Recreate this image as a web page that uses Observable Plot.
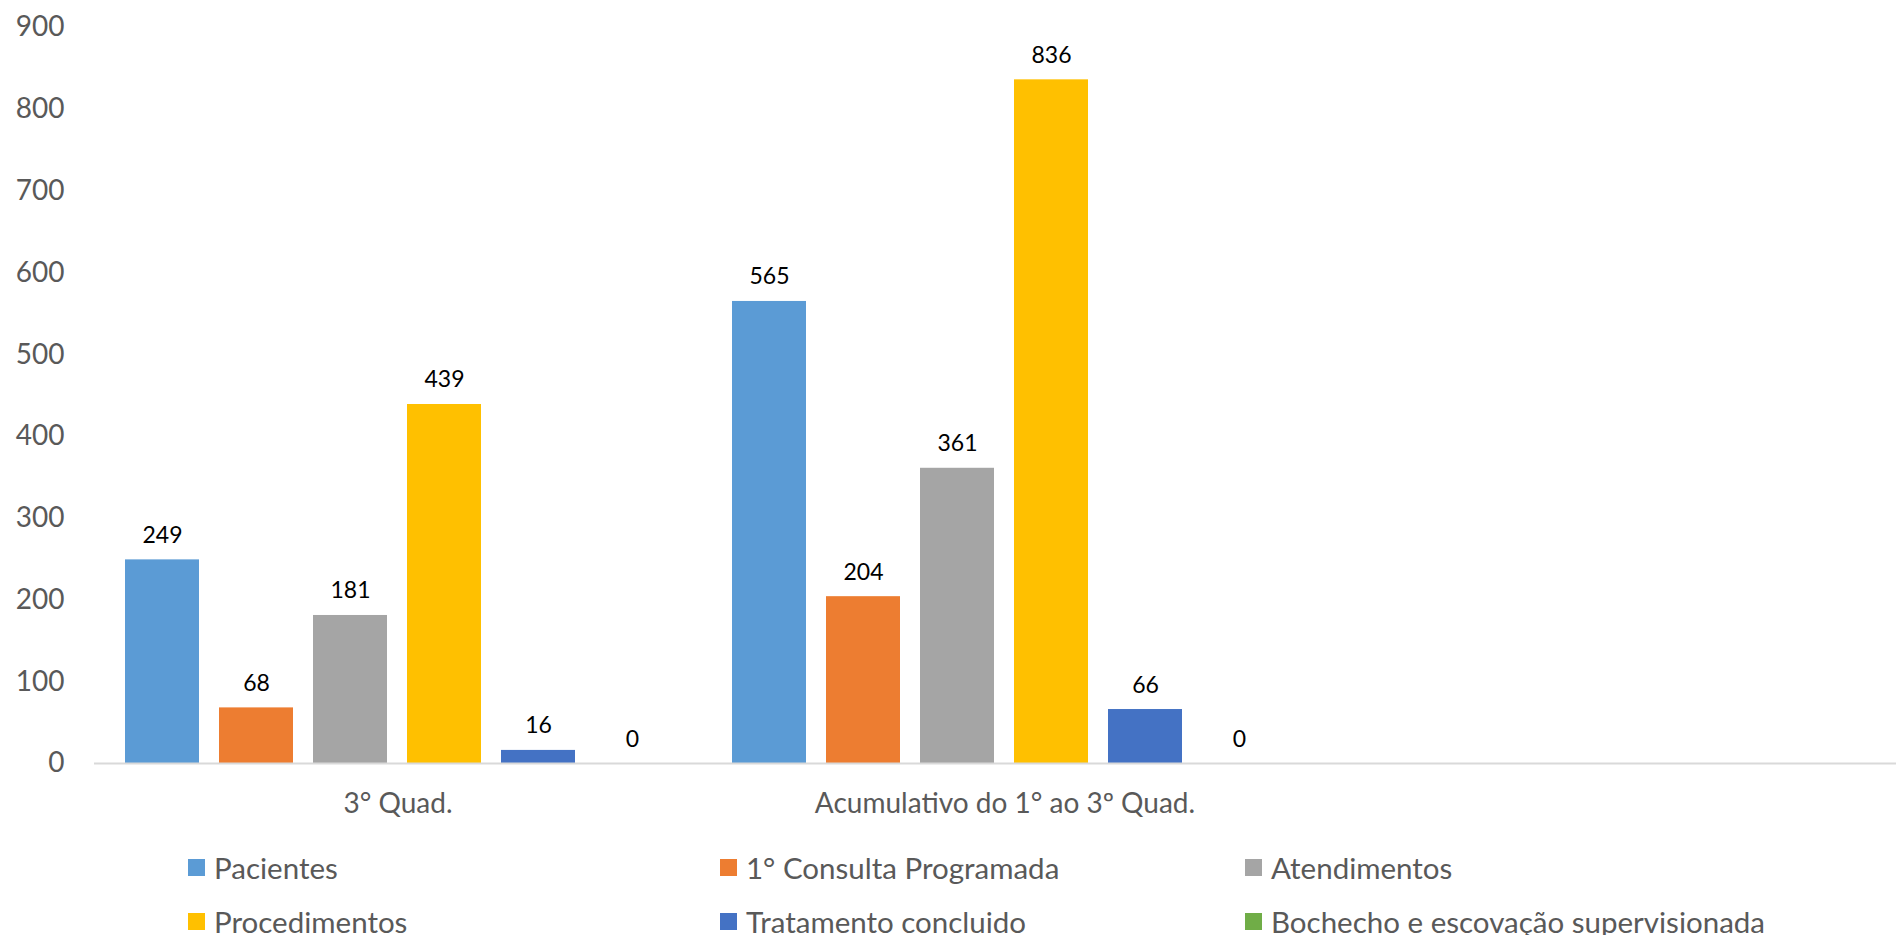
<!DOCTYPE html>
<html>
<head>
<meta charset="utf-8">
<script src="https://cdn.jsdelivr.net/npm/d3@7"></script>
<script src="https://cdn.jsdelivr.net/npm/@observablehq/plot@0.6"></script>
<style>
  html, body { margin: 0; padding: 0; background: #fff; overflow: hidden; width: 1896px; height: 935px; }
  #chart { position: absolute; left: 0; top: 0; width: 1915px; }
  #chart svg { max-width: none !important; }
  .leg { position: absolute; height: 30px; display: flex; align-items: center; font-family: Lato, "Open Sans", sans-serif; font-size: 29.5px; color: #595959; white-space: nowrap; }
  .sw { width: 17px; height: 17px; margin-right: 9px; flex: none; }
</style>
</head>
<body>
<div id="chart"></div>
<div id="legend"></div>
<script>
const categories = ["3° Quad.", "Acumulativo do 1° ao 3º Quad.", ""];
const series = ["Pacientes", "1° Consulta Programada", "Atendimentos", "Procedimentos", "Tratamento concluido", "Bochecho e escovação supervisionada"];
const colors = ["#5B9BD5", "#ED7D31", "#A5A5A5", "#FFC000", "#4472C4", "#70AD47"];
const values3Quad = [249, 68, 181, 439, 16, 0];
const valuesAcumulativo = [565, 204, 361, 836, 66, 0];
const valuesEmpty = [null, null, null, null, null, null];
const yTicks = [0, 100, 200, 300, 400, 500, 600, 700, 800, 900];

const valuesByCategory = [values3Quad, valuesAcumulativo, valuesEmpty];
const data = [];
categories.forEach((c, i) => {
  series.forEach((s, j) => {
    data.push({category: c, series: s, value: valuesByCategory[i][j]});
  });
});
const labelled = data.filter(d => d.value != null);

const chart = Plot.plot({
  width: 1915,
  height: 835,
  marginLeft: 94,
  marginRight: 0,
  marginTop: 27,
  marginBottom: 72,
  style: {fontFamily: "Lato, 'Open Sans', sans-serif", background: "#fff", maxWidth: "none"},
  fx: {domain: categories, padding: 0, label: null, axis: null},
  x: {domain: series, paddingInner: 0.2105, paddingOuter: 0.3, axis: null},
  y: {domain: [0, 900], axis: null},
  color: {domain: series, range: colors},
  marks: [
    Plot.barY(labelled, {fx: "category", x: "series", y: "value", fill: "series"}),
    Plot.ruleY(data, Plot.groupZ({y: () => 0}, {fx: "category", stroke: "#D9D9D9", strokeWidth: 2})),
    Plot.text(labelled, {fx: "category", x: "series", y: "value", text: d => String(d.value), lineAnchor: "bottom", dy: -17, fontSize: 23, fill: "#000"}),
    Plot.axisY({ticks: yTicks, tickSize: 0, tickPadding: 30, fontSize: 28, color: "#595959", label: null, tickFormat: d => String(d)}),
    Plot.axisFx({anchor: "bottom", tickSize: 0, tickPadding: 30, fontSize: 28, color: "#595959", label: null})
  ]
});
document.getElementById("chart").appendChild(chart);

const legendPos = [[188, 852], [720, 852], [1245, 852], [188, 906], [720, 906], [1245, 906]];
const legend = document.getElementById("legend");
series.forEach((s, i) => {
  const div = document.createElement("div");
  div.className = "leg";
  div.style.left = legendPos[i][0] + "px";
  div.style.top = legendPos[i][1] + "px";
  const sw = document.createElement("span");
  sw.className = "sw";
  sw.style.background = colors[i];
  div.appendChild(sw);
  div.appendChild(document.createTextNode(s));
  legend.appendChild(div);
});
</script>
</body>
</html>
